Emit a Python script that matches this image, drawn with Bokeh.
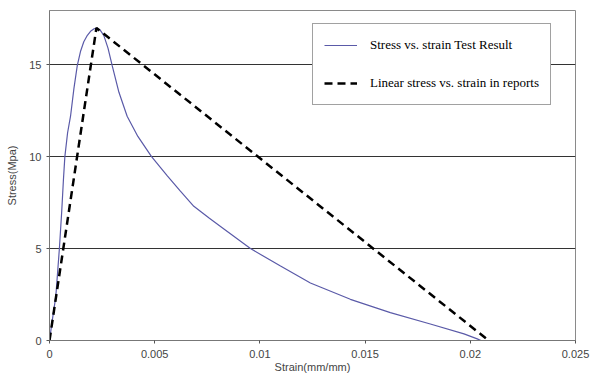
from bokeh.plotting import figure
from bokeh.models import FixedTicker, Range1d, Legend, LegendItem
from bokeh.embed import file_html
from bokeh.resources import INLINE

# Test result curve
test_strain = [0, 0.00012, 0.0003, 0.00047, 0.00058, 0.00066, 0.00073, 0.00086, 0.001,
               0.00116, 0.00132, 0.00148, 0.00163, 0.0018, 0.00195, 0.00212, 0.00223,
               0.0024, 0.00258, 0.00278, 0.00298, 0.0033, 0.00369, 0.0042, 0.00485,
               0.0056, 0.0062, 0.00686, 0.0076, 0.00829, 0.00955, 0.01098,
               0.0124, 0.0143, 0.0162, 0.0181, 0.0197, 0.02033, 0.0205]
test_stress = [0, 1.0, 2.4, 5.0, 7.0, 8.7, 10.0, 11.3, 12.2,
               13.7, 14.95, 15.75, 16.25, 16.6, 16.82, 16.96, 17.0,
               16.9, 16.6, 15.9, 14.95, 13.5, 12.2, 11.1, 10.0,
               8.95, 8.15, 7.3, 6.65, 6.07, 5.0, 4.05,
               3.13, 2.24, 1.52, 0.9, 0.36, 0.09, 0]

# Linear model from reports
lin_strain = [0, 0.00223, 0.02087]
lin_stress = [0, 17.0, 0]

x_ticks = [0, 0.005, 0.01, 0.015, 0.02, 0.025]
x_tick_labels = ["0", "0.005", "0.01", "0.015", "0.02", "0.025"]
y_ticks = [0, 5, 10, 15]

label_test = "Stress vs. strain Test Result"
label_lin = "Linear stress vs. strain in reports"

p = figure(width=591, height=376, output_backend="svg", toolbar_location=None,
           x_range=Range1d(0, 0.025), y_range=Range1d(0, 17.95),
           min_border_left=49, min_border_right=16, min_border_top=10, min_border_bottom=36)
p.background_fill_color = "white"
p.border_fill_color = "white"
p.outline_line_color = "#8a8a8a"
p.outline_line_width = 1

r1 = p.line(test_strain, test_stress, line_color="#5a5aa8", line_width=1.2)
r2 = p.line(lin_strain, lin_stress, line_color="black", line_width=2.5, line_dash="8 5")

p.xgrid.visible = False
p.ygrid.ticker = FixedTicker(ticks=[5, 10, 15])
p.ygrid.grid_line_color = "#333333"
p.ygrid.grid_line_width = 1

p.xaxis.ticker = FixedTicker(ticks=x_ticks)
p.xaxis.major_label_overrides = {t: l for t, l in zip(x_ticks, x_tick_labels)}
p.yaxis.ticker = FixedTicker(ticks=y_ticks)
p.xaxis.minor_tick_line_color = None
p.yaxis.minor_tick_line_color = None

for ax in (p.xaxis, p.yaxis):
    ax.axis_line_color = "#777777"
    ax.major_tick_line_color = "#555555"
    ax.major_tick_in = 0
    ax.major_tick_out = 3
    ax.major_label_text_font = "Liberation Sans"
    ax.major_label_text_font_size = "11px"
    ax.major_label_text_color = "#444444"
    ax.axis_label_text_font = "Liberation Sans"
    ax.axis_label_text_font_size = "11px"
    ax.axis_label_text_font_style = "normal"
    ax.axis_label_text_color = "#444444"

p.xaxis.axis_label = "Strain(mm/mm)"
p.yaxis.axis_label = "Stress(Mpa)"
p.xaxis.major_label_standoff = 6
p.xaxis.axis_label_standoff = 0
p.yaxis.major_label_standoff = 5
p.yaxis.axis_label_standoff = 8

legend = Legend(items=[LegendItem(label=label_test, renderers=[r1]),
                       LegendItem(label=label_lin, renderers=[r2])],
                location=(263, 235), margin=0)
legend.label_text_font = "Liberation Serif"
legend.label_text_font_size = "13px"
legend.label_text_color = "black"
legend.glyph_width = 33
legend.glyph_height = 20
legend.label_height = 20
legend.label_standoff = 13
legend.spacing = 18
legend.padding = 11
legend.border_line_color = "#444444"
legend.border_line_width = 1
legend.background_fill_alpha = 1.0
p.add_layout(legend, "center")

open("out.html", "w").write(file_html(p, INLINE))
